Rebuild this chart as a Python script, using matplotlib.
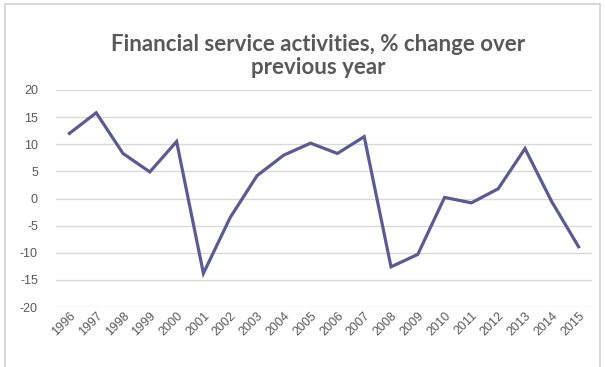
import matplotlib.pyplot as plt
from matplotlib.patches import Rectangle

# annual % change, financial service activities
years = [str(y) for y in range(1996, 2016)]
change = [12.0, 15.8, 8.3, 4.9, 10.5, -13.8, -3.5, 4.2, 8.0, 10.2,
          8.3, 11.4, -12.6, -10.3, 0.2, -0.8, 1.8, 9.2, -0.6, -8.9]
y_ticks = [-20, -15, -10, -5, 0, 5, 10, 15, 20]

W, H = 605, 367
fig = plt.figure(figsize=(W / 100, H / 100), dpi=100)
fig.patch.set_facecolor('white')

# thin frame around the chart area
fig.patches.append(Rectangle((5 / W, -0.05), (W - 10) / W, 1.05 - 4 / H,
                             transform=fig.transFigure, fill=False,
                             edgecolor='#d0d0d0', linewidth=1.2))

ax = fig.add_axes([56 / W, 1 - 307 / H, (592 - 56) / W, (307 - 90) / H])
x = list(range(len(years)))
ax.plot(x, change, color='#5b5b93', linewidth=2.3, solid_joinstyle='miter')

ax.set_xlim(-0.5, len(years) - 0.5)
ax.set_ylim(-20, 20)
ax.set_yticks(y_ticks)
ax.set_yticklabels([str(v) for v in y_ticks])
ax.set_xticks(x)
ax.set_xticklabels(years, rotation=45, ha='right', rotation_mode='anchor')

for v in y_ticks:
    ax.axhline(v, color='#d9d9d9', linewidth=1.0, zorder=0)
for s in ax.spines.values():
    s.set_visible(False)
ax.tick_params(axis='both', length=0, labelsize=9, labelcolor='#595959')
ax.tick_params(axis='y', pad=13)
ax.tick_params(axis='x', pad=2)
for lab in ax.get_xticklabels() + ax.get_yticklabels():
    lab.set_fontfamily('Liberation Sans')

fig.text(318 / W, 1 - 56 / H, 'Financial service activities, % change over\nprevious year',
         ha='center', va='center', fontsize=16, fontweight='bold',
         color='#595959', family='Lato', linespacing=1.1)

fig.savefig('out.png', dpi=100)
